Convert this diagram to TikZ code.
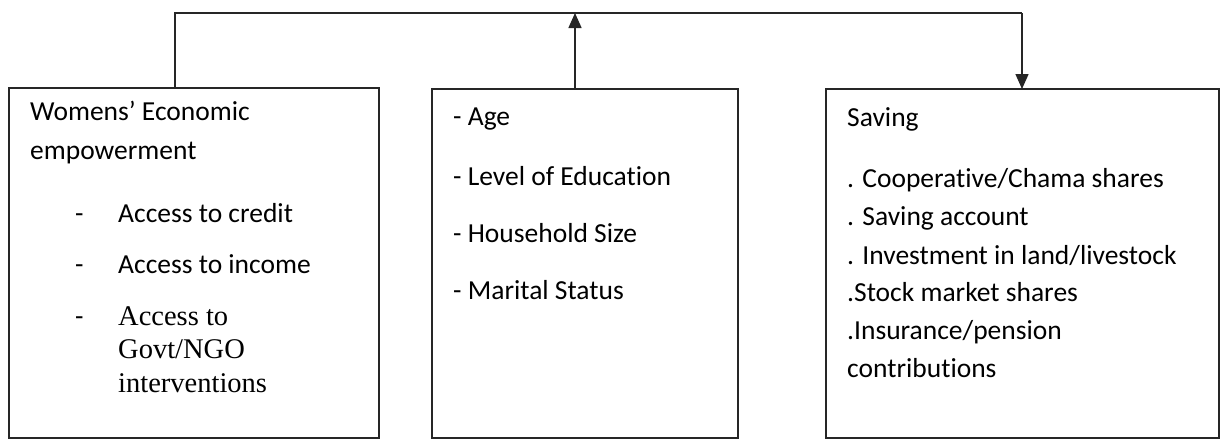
\documentclass[tikz,border=0pt]{standalone}
\usepackage{fontspec}
\setmainfont[Ligatures=CommonOff]{Carlito}
\newfontfamily\serifface{Liberation Serif}
\usetikzlibrary{arrows.meta}
\begin{document}
\begin{tikzpicture}[x=1pt,y=-1pt,
  box/.style={draw=black!85, line width=1.5pt, inner sep=0pt, outer sep=0pt, anchor=north west},
  txt/.style={anchor=base west, inner sep=0pt, font=\fontsize{27.5}{32}\selectfont},
  stxt/.style={anchor=base west, inner sep=0pt, font=\serifface\fontsize{28.5}{32}\selectfont},
  conn/.style={draw=black!85, line width=1.5pt},
  tip/.style={-{Triangle[length=15pt,width=13pt]}}]
\useasboundingbox (0,0) rectangle (1221,440);
% boxes
\node[box, minimum width=370pt, minimum height=350pt] (L) at (9,88) {};
\node[box, minimum width=306pt, minimum height=349pt] (M) at (432,89) {};
\node[box, minimum width=393pt, minimum height=349pt] (R) at (826,89) {};
% connector coordinates
\coordinate (tl) at (175,13);
\coordinate (tr) at (1022,13);
\coordinate (tm) at (575,13);
\draw[conn] (L.north -| tl) -- (tl) -- (tr);
\draw[conn, tip] (tr) -- (R.north -| tr);
\draw[conn, tip] (M.north -| tm) -- (tm);
% left box text
\node[txt] (l1) at (30,120) {Womens’ Economic};
\node[txt] (l2) at (30,159) {empowerment};
\node[txt] (d1) at (75,222) {-};
\node[txt] (l3) at (118,222) {Access to credit};
\node[txt] (d2) at (75,273) {-};
\node[txt] (l4) at (118,273) {Access to income};
\node[txt] (d3) at (75,325) {-};
\node[stxt] (l5) at (118,325) {Access to};
\node[stxt] (l6) at (118,358) {Govt/NGO};
\node[stxt] (l7) at (118,392) {interventions};
% middle box text
\node[txt] (m1) at (453,125) {- Age};
\node[txt] (m2) at (453,185) {- Level of Education};
\node[txt] (m3) at (453,242) {- Household Size};
\node[txt] (m4) at (453,299) {- Marital Status};
% right box text
\node[txt] (r1) at (847,126) {Saving};
\node[txt] (r2) at (847,187) {. Cooperative/Chama shares};
\node[txt] (r3) at (847,225) {. Saving account};
\node[txt] (r4) at (847,264) {. Investment in land/livestock};
\node[txt] (r5) at (847,301) {.Stock market shares};
\node[txt] (r6) at (847,339) {.Insurance/pension};
\node[txt] (r7) at (847,377) {contributions};
\end{tikzpicture}
\end{document}
